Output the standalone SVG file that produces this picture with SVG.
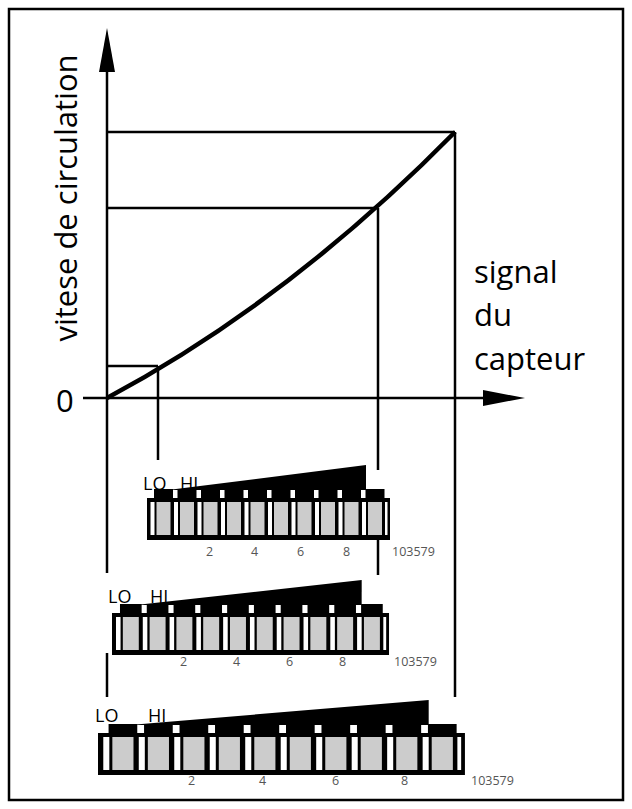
<svg xmlns="http://www.w3.org/2000/svg" width="632" height="809" viewBox="0 0 632 809">
<style>
.ln{stroke:#000;stroke-width:2.5;fill:none}
.big{font-family:"Open Sans","Liberation Sans",sans-serif;font-size:31px;fill:#000}
.lbl{font-family:"Open Sans","Liberation Sans",sans-serif;font-size:18px;fill:#000}
.num{font-family:"Open Sans","Liberation Sans",sans-serif;font-size:12.5px;fill:#555}
</style>
<defs>
<g id="dip">
<polygon points="21,-8 219,-8 219,-33" fill="#000"/>
<rect x="0" y="0" width="243" height="42" fill="#000"/>
<g id="sw"><rect x="3.5" y="4" width="4" height="33" fill="#fff"/><rect x="9.5" y="4" width="14" height="33" fill="#ccc"/><rect x="7" y="-9" width="19" height="9" fill="#000"/></g>
<use href="#sw" x="23.5"/><use href="#sw" x="47"/><use href="#sw" x="70.5"/><use href="#sw" x="94"/><use href="#sw" x="117.5"/><use href="#sw" x="141"/><use href="#sw" x="164.5"/><use href="#sw" x="188"/><use href="#sw" x="211.5"/>
<rect x="238" y="4" width="2.5" height="33" fill="#fff"/>
</g>
</defs>
<rect x="9" y="9" width="614" height="791" fill="#fff" stroke="#000" stroke-width="2.5"/>
<g id="connectors">
<line class="ln" x1="107" y1="60" x2="107" y2="573"/>
<line class="ln" x1="107" y1="653" x2="107" y2="697"/>
<polygon points="107,28 99,72 115,72" fill="#000"/>
<line class="ln" x1="83" y1="398" x2="490" y2="398"/>
<polygon points="525,398 483,390 483,406" fill="#000"/>
<path d="M107,398 Q290,300 455,132" stroke="#000" stroke-width="4.5" fill="none"/>
<line class="ln" x1="107" y1="132" x2="455" y2="132"/>
<line class="ln" x1="107" y1="208" x2="378" y2="208"/>
<line class="ln" x1="107" y1="366" x2="158" y2="366"/>
<line class="ln" x1="158" y1="366" x2="158" y2="460"/>
<line class="ln" x1="378" y1="208" x2="378" y2="470"/>
<line class="ln" x1="378" y1="540" x2="378" y2="575"/>
<line class="ln" x1="455" y1="132" x2="455" y2="697"/>
</g>
<g id="axes-labels">
<text class="big" x="56" y="412">0</text>
<text class="big" transform="translate(77,198) rotate(-90)" text-anchor="middle">vitese de circulation</text>
<text class="big" x="474" y="283">signal</text>
<text class="big" x="474" y="326">du</text>
<text class="big" x="474" y="370">capteur</text>
</g>
<g id="dip1">
<use href="#dip" transform="translate(147,498)"/>
<text class="lbl" x="143" y="490">LO</text><text class="lbl" x="180" y="490">HI</text>
<text class="num" x="206" y="556">2</text><text class="num" x="251" y="556">4</text><text class="num" x="297" y="556">6</text><text class="num" x="343" y="556">8</text>
<text class="num" x="392" y="556">103579</text>
</g>
<g id="dip2">
<use href="#dip" transform="translate(112,613) scale(1.14,1)"/>
<text class="lbl" x="108" y="603">LO</text><text class="lbl" x="150" y="603">HI</text>
<text class="num" x="180" y="666">2</text><text class="num" x="233" y="666">4</text><text class="num" x="286" y="666">6</text><text class="num" x="339" y="666">8</text>
<text class="num" x="394" y="666">103579</text>
</g>
<g id="dip3">
<use href="#dip" transform="translate(98,733) scale(1.51,1)"/>
<text class="lbl" x="95" y="722">LO</text><text class="lbl" x="148" y="722">HI</text>
<text class="num" x="188" y="785">2</text><text class="num" x="259" y="785">4</text><text class="num" x="332" y="785">6</text><text class="num" x="401" y="785">8</text>
<text class="num" x="471" y="785">103579</text>
</g>
</svg>
